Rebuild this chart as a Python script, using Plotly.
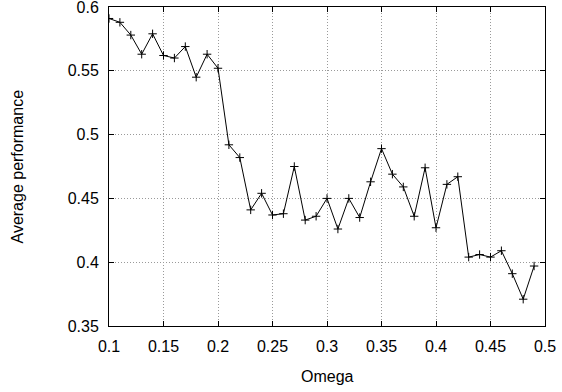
import plotly.graph_objects as go

omega = [0.10, 0.11, 0.12, 0.13, 0.14, 0.15, 0.16, 0.17, 0.18, 0.19,
         0.20, 0.21, 0.22, 0.23, 0.24, 0.25, 0.26, 0.27, 0.28, 0.29,
         0.30, 0.31, 0.32, 0.33, 0.34, 0.35, 0.36, 0.37, 0.38, 0.39,
         0.40, 0.41, 0.42, 0.43, 0.44, 0.45, 0.46, 0.47, 0.48, 0.49]
performance = [0.591, 0.588, 0.578, 0.563, 0.579, 0.562, 0.560, 0.569, 0.545, 0.563,
               0.552, 0.492, 0.482, 0.441, 0.454, 0.437, 0.438, 0.475, 0.433, 0.436,
               0.450, 0.426, 0.450, 0.435, 0.463, 0.489, 0.469, 0.459, 0.436, 0.474,
               0.427, 0.461, 0.467, 0.404, 0.406, 0.404, 0.409, 0.391, 0.371, 0.397]
x_ticks = [0.1, 0.15, 0.2, 0.25, 0.3, 0.35, 0.4, 0.45, 0.5]
x_tick_labels = ["0.1", "0.15", "0.2", "0.25", "0.3", "0.35", "0.4", "0.45", "0.5"]
y_ticks = [0.35, 0.4, 0.45, 0.5, 0.55, 0.6]
y_tick_labels = ["0.35", "0.4", "0.45", "0.5", "0.55", "0.6"]

FONT = "Liberation Sans, Arial, sans-serif"

fig = go.Figure()
fig.add_trace(go.Scatter(
    x=omega, y=performance, mode="lines+markers",
    line=dict(color="black", width=1),
    marker=dict(symbol="cross-thin", size=6, line=dict(color="black", width=1)),
    showlegend=False,
))

axis_common = dict(
    showline=True, linecolor="black", linewidth=1, mirror="allticks",
    ticks="inside", ticklen=5, tickcolor="black", tickwidth=1,
    showgrid=True, gridcolor="#9a9a9a", griddash="1px,2px", gridwidth=1,
    zeroline=False, automargin=False, ticklabeloverflow="allow",
    ticklabelstandoff=6,
    tickfont=dict(family=FONT, size=16, color="black"),
)

fig.update_layout(
    width=562, height=392,
    margin=dict(l=109, r=17, t=7, b=66),
    paper_bgcolor="white", plot_bgcolor="white",
    xaxis=dict(range=[0.1, 0.5], tickvals=x_ticks, ticktext=x_tick_labels, **axis_common),
    yaxis=dict(range=[0.35, 0.6], tickvals=y_ticks, ticktext=y_tick_labels, **axis_common),
    annotations=[
        dict(text="Omega", xref="paper", yref="paper", x=0.5, y=0, yshift=-50,
             showarrow=False, xanchor="center", yanchor="middle",
             font=dict(family=FONT, size=16, color="black")),
        dict(text="Average performance", xref="paper", yref="paper", x=0, y=0.5,
             xshift=-92, textangle=-90, showarrow=False, xanchor="center", yanchor="middle",
             font=dict(family=FONT, size=16, color="black")),
    ],
)

fig.write_html(
    "out.html",
    config={"displayModeBar": False},
    post_script="document.body.style.margin='0px';document.body.style.overflow='hidden';",
)
